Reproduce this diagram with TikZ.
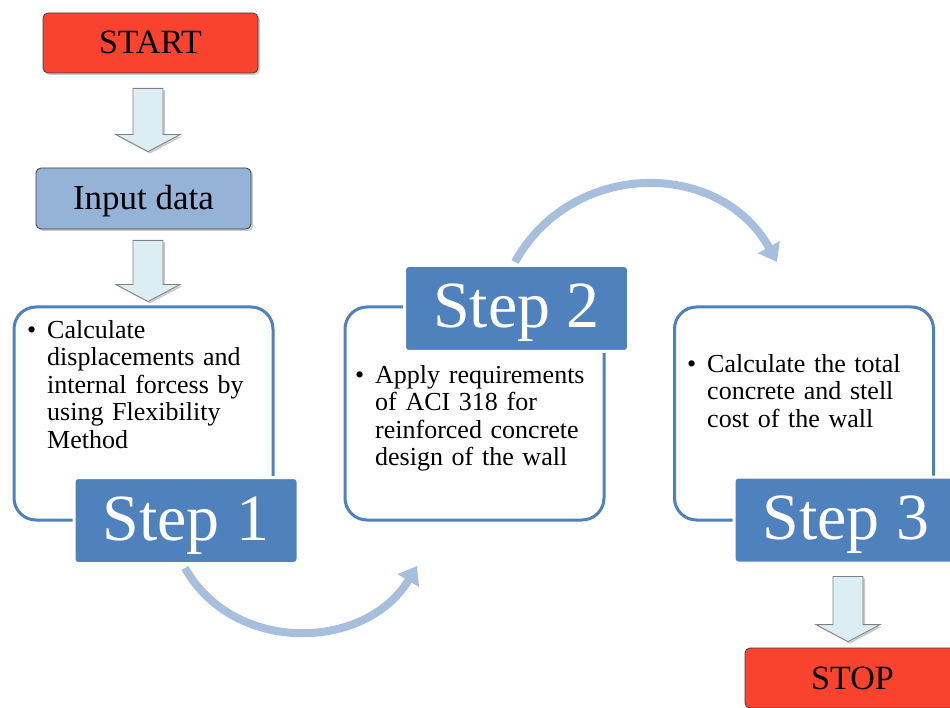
\documentclass[tikz,border=0pt]{standalone}
\usepackage{fontspec}
\setmainfont{Liberation Serif}
\usetikzlibrary{arrows.meta,calc,shadows}
\definecolor{stepblue}{HTML}{4F81BD}
\definecolor{redbox}{HTML}{F9432F}
\definecolor{inputblue}{HTML}{95B3D7}
\definecolor{arrowfill}{HTML}{DCEEF4}
\definecolor{curveblue}{HTML}{A8BEDD}
\hyphenpenalty=10000
\tikzset{
  termbox/.style={draw=black!75, line width=0.8pt, rounded corners=5pt,
    minimum width=215pt, minimum height=60pt, inner sep=0pt,
    font=\fontsize{34}{34}\selectfont, text height=22pt, text depth=0pt,
    drop shadow={shadow xshift=2pt, shadow yshift=-2pt, opacity=0.4}},
  outlinebox/.style={draw=stepblue, line width=3pt, fill=white, rounded corners=22pt,
    minimum width=259pt, minimum height=213pt, inner sep=0pt},
  steplabel/.style={fill=stepblue, draw=white, line width=3pt, rounded corners=4pt,
    minimum width=224pt, minimum height=86pt, inner sep=0pt, text=white,
    font=\fontsize{66}{66}\selectfont, text height=44pt, text depth=5pt},
  bodytext/.style={text width=250pt, align=left, inner sep=0pt, anchor=base west,
    font=\fontsize{26}{27.6}\selectfont},
  blockarr/.style={fill=arrowfill, draw=black!50, line width=0.8pt,
    drop shadow={shadow xshift=2pt, shadow yshift=-2pt, opacity=0.4}},
  curvearr/.style={draw=curveblue, line width=8pt,
    -{Triangle[width=24pt,length=17pt]}},
}
\newcommand\blockarrowdraw[2]{%
  \draw[blockarr] let \p1=(#1), \p2=(#2) in
    (\x2-15pt,\y1) -- (\x2+15pt,\y1) -- (\x2+15pt,\y2+17pt) -- (\x2+32pt,\y2+17pt)
    -- (\x2,\y2) -- (\x2-32pt,\y2+17pt) -- (\x2-15pt,\y2+17pt) -- cycle;}
\newcommand\bul{\llap{\textbullet\hspace{11pt}}}
\begin{document}
\begin{tikzpicture}[x=1pt,y=-1pt]
\useasboundingbox (0,0) rectangle (950,708);
\fill[white] (0,0) rectangle (950,708);
\clip (0,0) rectangle (950,708);

% step label positions (needed for curve ends)
\coordinate (l1s) at (186,563);
\coordinate (l2n) at (516.5,265);
\coordinate (c2in) at (417,566);
\coordinate (c3in) at (777,262);

% curved arrows
\draw[curvearr] ($(l1s)+(-1,5)$) .. controls (234,655) and (366,651) .. (c2in);
\draw[curvearr] ($(l2n)+(-1.5,-3)$) .. controls (572,159) and (720,159) .. (c3in);

% outline boxes
\node[outlinebox] (o1) at (143.5,413.5) {};
\node[outlinebox] (o2) at (474.5,413.5) {};
\node[outlinebox] (o3) at (804,413.5) {};

% body text
\node[bodytext] (t1) at (47,338) {\bul Calculate\\displacements and\\internal forcess by\\using Flexibility\\Method};
\node[bodytext] (t2) at (375,383) {\bul Apply requirements\\of ACI 318 for\\reinforced concrete\\design of the wall};
\node[bodytext] (t3) at (707,372) {\bul Calculate the total\\concrete and stell\\cost of the wall};

% step labels
\node[steplabel] (l1) at (186,520.5) {Step 1};
\node[steplabel] (l2) at (516.5,308.5) {Step 2};
\node[steplabel] (l3) at (846,520) {Step 3};

% terminal and input boxes
\node[termbox, fill=redbox] (start) at (150.5,43) {START};
\node[termbox, fill=inputblue, minimum height=61pt, font=\fontsize{35}{35}\selectfont] (input) at (143.5,198.5) {Input data};
\node[termbox, fill=redbox] (stop) at (852.5,678) {STOP};

% block arrows
\blockarrowdraw{$(start.south)+(-2.5,15)$}{$(input.north)+(4.5,-16)$}
\blockarrowdraw{$(input.south)+(4.5,11)$}{$(o1.north)+(4.5,-4)$}
\blockarrowdraw{$(l3.south)+(2,12)$}{$(stop.north)+(-4.5,-6)$}
\end{tikzpicture}
\end{document}
